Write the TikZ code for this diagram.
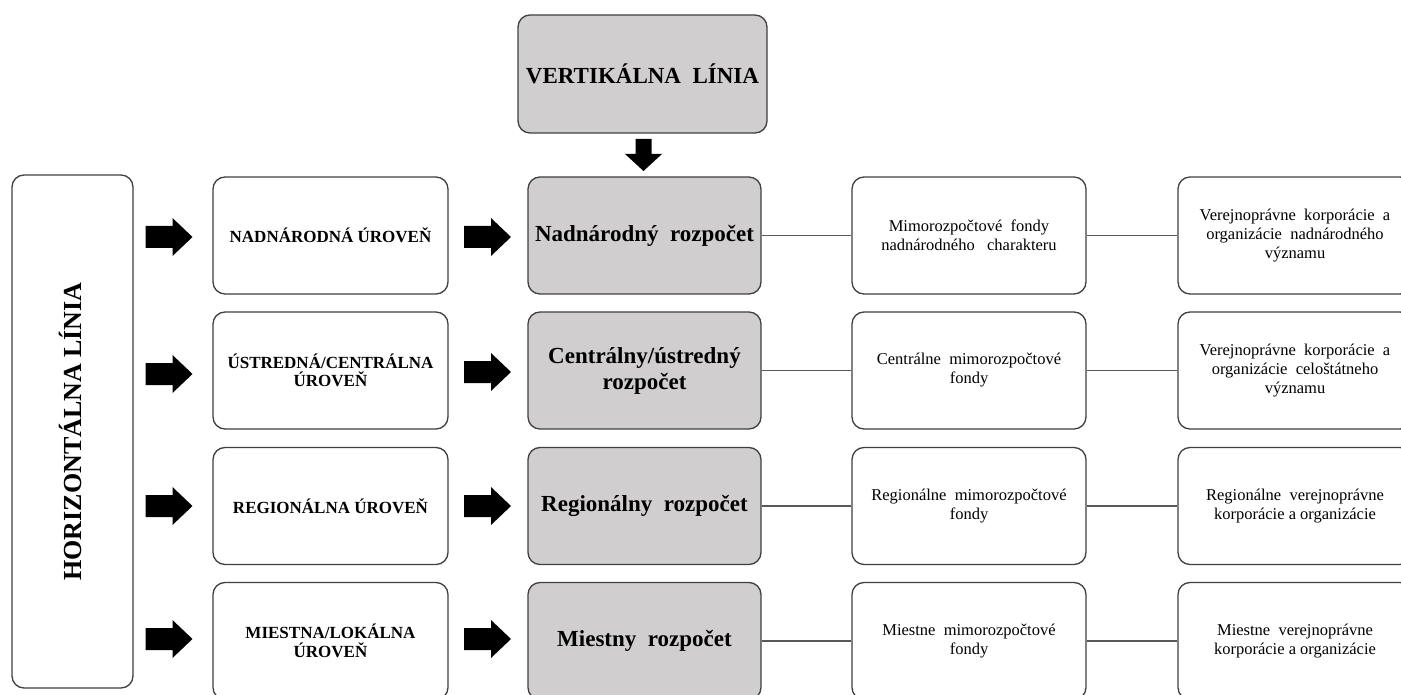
\documentclass[tikz,border=0pt]{standalone}
\usepackage{fontspec}
\setmainfont{Liberation Serif}
\usetikzlibrary{calc}
\definecolor{boxgray}{RGB}{208,206,206}
\definecolor{edgegray}{RGB}{64,64,64}
\definecolor{linegray}{RGB}{89,89,89}
\tikzset{
  box/.style={draw=edgegray, line width=1.3pt, rounded corners=12pt, align=center, inner sep=2pt},
  level/.style={box, fill=white, minimum width=235pt, minimum height=117pt, font=\fontsize{17}{18.5}\selectfont\bfseries},
  budget/.style={box, fill=boxgray, minimum width=233pt, minimum height=117pt, font=\fontsize{23}{26}\selectfont\bfseries},
  fund/.style={box, fill=white, minimum width=234pt, minimum height=117pt, font=\fontsize{16.5}{19}\selectfont},
  link/.style={draw=linegray, line width=1.3pt},
  blockarrow/.style={fill=black},
}
% right-pointing block arrow centred on a named coordinate
\newcommand{\rblock}[1]{%
  \fill[blockarrow] ([shift={(-23.5,-11)}]#1) -- ([shift={(3.5,-11)}]#1) -- ([shift={(3.5,-19)}]#1)
    -- ([shift={(23.5,0)}]#1) -- ([shift={(3.5,19)}]#1) -- ([shift={(3.5,11)}]#1)
    -- ([shift={(-23.5,11)}]#1) -- cycle;}
\begin{document}
\begin{tikzpicture}[x=1pt, y=-1pt]
\clip (0,0) rectangle (1401,695);
\fill[white] (0,0) rectangle (1401,695);

% left big box
\node[box, fill=white, minimum width=121pt, minimum height=513pt] (H) at (72.5,431.5) {};
\node[rotate=90, font=\fontsize{26}{30}\selectfont\bfseries] (Ht) at ([xshift=-2pt]H.center) {HORIZONTÁLNA LÍNIA};

% top box
\node[box, fill=boxgray, minimum width=249pt, minimum height=118pt, font=\fontsize{23}{26}\selectfont\bfseries] (V) at (642.5,74) {VERTIKÁLNA\ \ LÍNIA};

% level boxes
\node[level] (L1) at (330.5,235.5) {NADNÁRODNÁ ÚROVEŇ};
\node[level] (L2) at (330.5,370.5) {ÚSTREDNÁ/CENTRÁLNA\\ÚROVEŇ};
\node[level] (L3) at (330.5,506) {REGIONÁLNA ÚROVEŇ};
\node[level] (L4) at (330.5,641) {MIESTNA/LOKÁLNA\\ÚROVEŇ};

% budget boxes
\node[budget] (B1) at (644.5,235.5) {Nadnárodný\ \ rozpočet};
\node[budget] (B2) at (644.5,370.5) {Centrálny/ústredný\\rozpočet};
\node[budget] (B3) at (644.5,506) {Regionálny\ \ rozpočet};
\node[budget] (B4) at (644.5,641) {Miestny\ \ rozpočet};

% fund boxes
\node[fund] (F1) at (969,235.5) {Mimorozpočtové\ \ fondy\\nadnárodného\ \ \ charakteru};
\node[fund] (F2) at (969,370.5) {Centrálne\ \ mimorozpočtové\\fondy};
\node[fund] (F3) at (969,506) {Regionálne\ \ mimorozpočtové\\fondy};
\node[fund] (F4) at (969,641) {Miestne\ \ mimorozpočtové\\fondy};

% corporation boxes
\node[fund] (C1) at (1295,235.5) {Verejnoprávne\ \ korporácie\ \ a\\organizácie\ \ nadnárodného\\významu};
\node[fund] (C2) at (1295,370.5) {Verejnoprávne\ \ korporácie\ \ a\\organizácie\ \ celoštátneho\\významu};
\node[fund] (C3) at (1295,506) {Regionálne\ \ verejnoprávne\\korporácie\ a organizácie};
\node[fund] (C4) at (1295,641) {Miestne\ \ verejnoprávne\\korporácie\ a organizácie};

% connectors
\foreach \i in {1,2,3,4}{
  \draw[link] (B\i.east) -- (F\i.west);
  \draw[link] (F\i.east) -- (C\i.west);
}

% block arrows, first column
\coordinate (a1) at (169,237);
\coordinate (a2) at (169,374);
\coordinate (a3) at (169,506);
\coordinate (a4) at (169,639);
% block arrows, second column
\coordinate (b1) at (487.5,237);
\coordinate (b2) at (487.5,372);
\coordinate (b3) at (487.5,506);
\coordinate (b4) at (487.5,639);
\foreach \p in {a1,a2,a3,a4,b1,b2,b3,b4}{\rblock{\p}}

% down arrow from the vertical box to the first budget box
\coordinate (d1) at ($(V.south)!0.5!(B1.north)$);
\fill[blockarrow] ([shift={(-8,-16)}]d1) -- ([shift={(8,-16)}]d1) -- ([shift={(8,-1)}]d1)
   -- ([shift={(18.5,-1)}]d1) -- ([shift={(0,16)}]d1) -- ([shift={(-18.5,-1)}]d1)
   -- ([shift={(-8,-1)}]d1) -- cycle;
\end{tikzpicture}
\end{document}
